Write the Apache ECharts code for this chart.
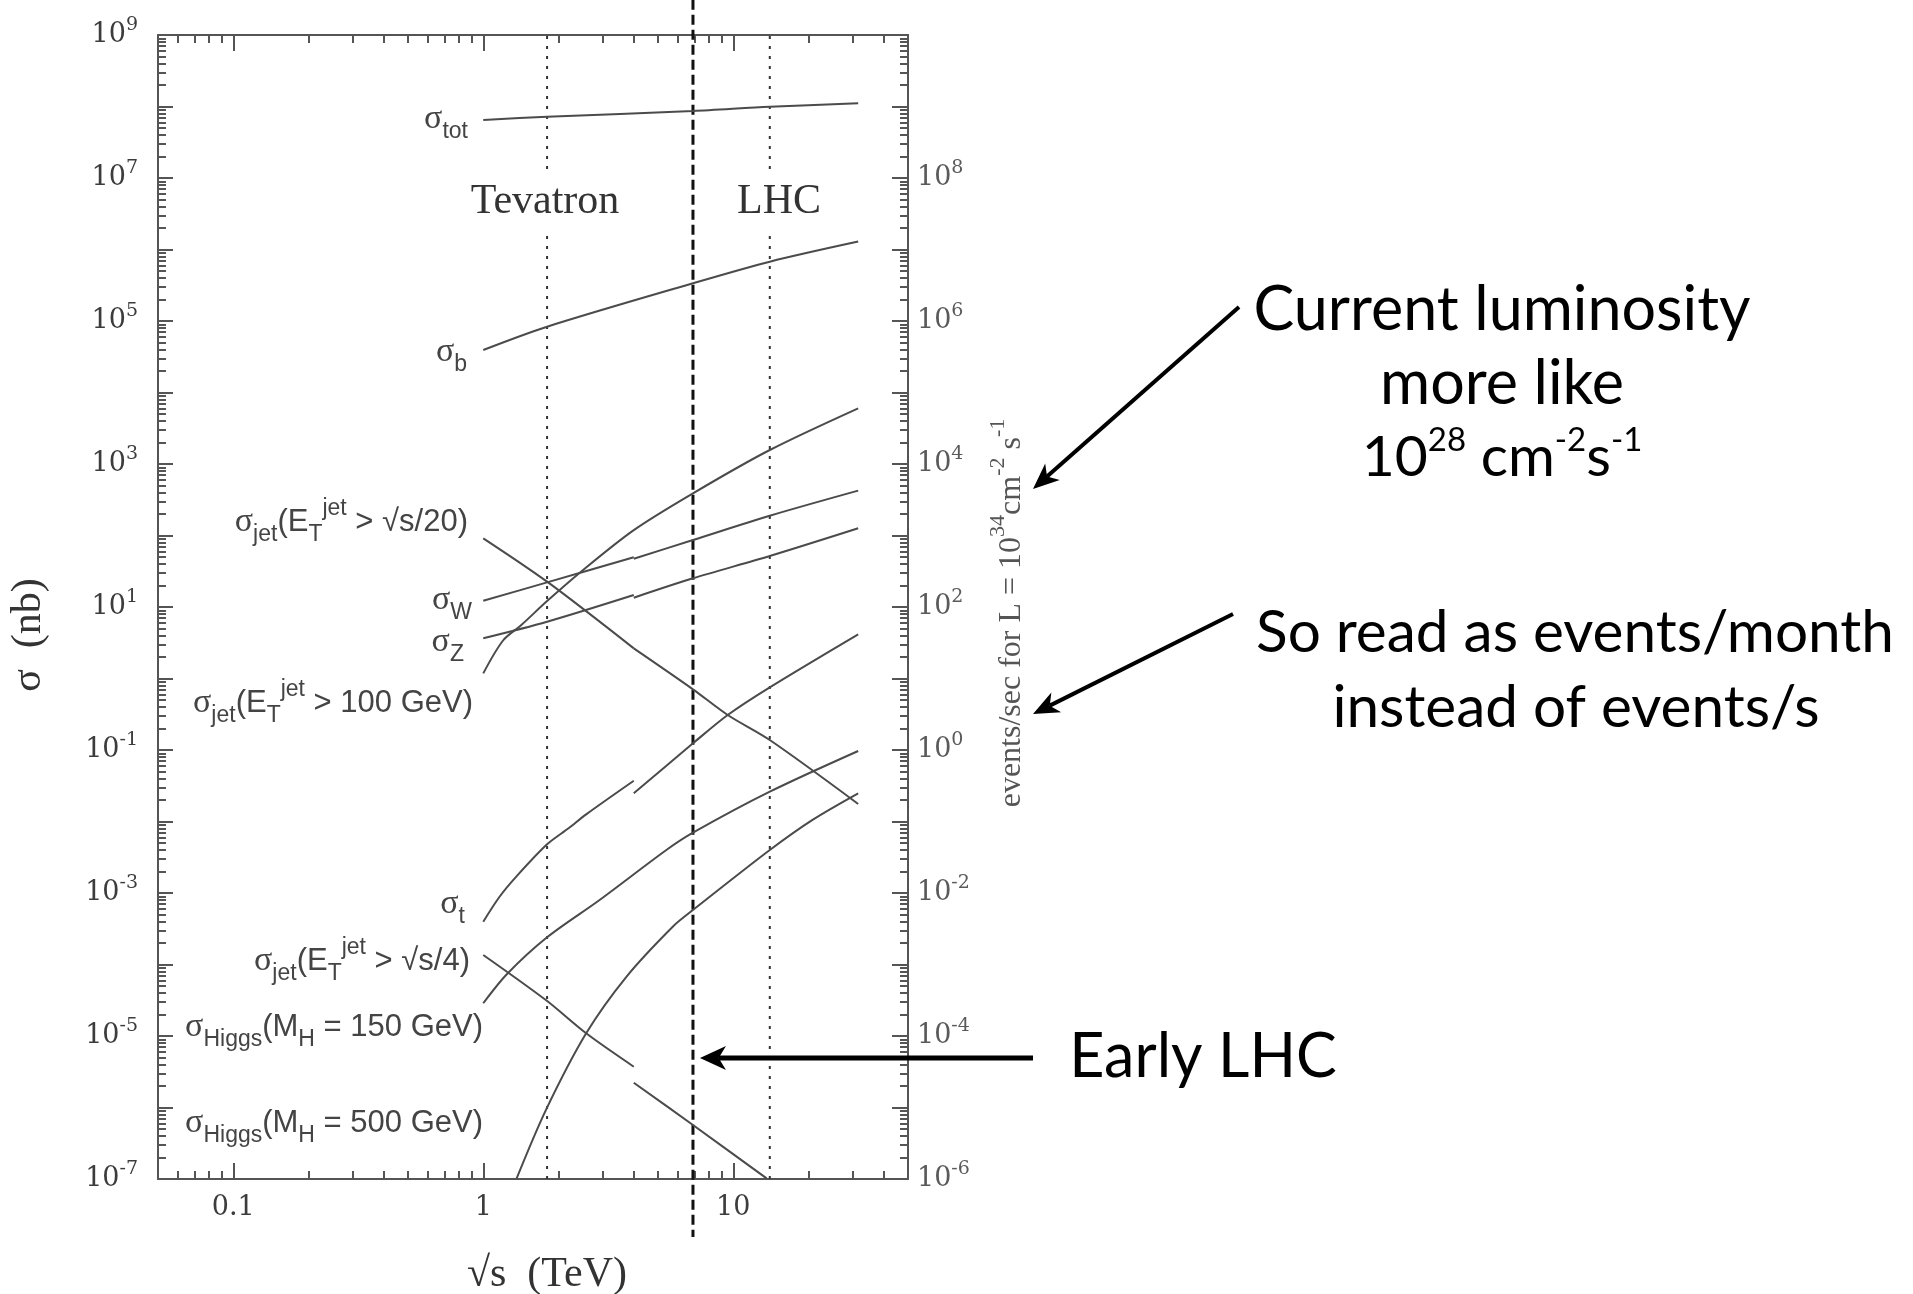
<!DOCTYPE html>
<html>
<head>
<meta charset="utf-8">
<title>Cross sections vs collider energy</title>
<script src="https://cdn.jsdelivr.net/npm/echarts@6.0.0/dist/echarts.min.js"></script>
<style>
  html, body { margin: 0; padding: 0; background: #ffffff; }
  #chart { width: 1913px; height: 1294px; }
</style>
</head>
<body>
<div id="chart"></div>
<script>
// ---- axis ranges -------------------------------------------------------
// x: centre-of-mass energy sqrt(s) in TeV; y: cross section in nb.
// Right axis: event rate at L = 1e34 cm^-2 s^-1, i.e. 1 nb -> 10 events/s.
const xMin = 0.05, xMax = 50;
const yMin = 1e-7, yMax = 1e9;
const rateMin = 1e-6, rateMax = 1e10;

const xTickLabels = [0.1, 1, 10];
const xMajorTicks = [0.1, 1, 10];
const yTickLabels = [1e-7, 1e-5, 1e-3, 1e-1, 1e1, 1e3, 1e5, 1e7, 1e9];
const yMajorTicks = [1e-7, 1e-6, 1e-5, 1e-4, 1e-3, 1e-2, 1e-1, 1, 1e1, 1e2, 1e3, 1e4, 1e5, 1e6, 1e7, 1e8, 1e9];
const rateTickLabels = [1e-6, 1e-4, 1e-2, 1, 1e2, 1e4, 1e6, 1e8];
const rateMajorTicks = [1e-6, 1e-5, 1e-4, 1e-3, 1e-2, 1e-1, 1, 1e1, 1e2, 1e3, 1e4, 1e5, 1e6, 1e7, 1e8, 1e9, 1e10];

// collider energies (TeV)
const TEVATRON = 1.8;
const LHC = 14;
const EARLY_LHC = 6.9;

// ---- cross sections [sqrt(s) TeV, sigma nb] ------------------------------
const sigmaTot = [[1, 6.47e7], [1.8, 7.19e7], [6.9, 8.65e7], [14, 9.93e7], [31.6, 1.11e8]];
const sigmaB = [[1, 3.93e4], [1.8, 8.32e4], [6.9, 3.37e5], [14, 6.75e5], [31.6, 1.29e6]];
const jetSqrtS20PpBar = [[1, 91.4], [1.8, 22.6], [4, 2.64]];
const jetSqrtS20Pp = [[4, 2.64], [6.9, 0.706], [9.5, 0.309], [14, 0.138], [31.6, 0.0176]];
const sigmaWPpBar = [[1, 12.2], [1.8, 22.1], [4, 49.6]];
const sigmaWPp = [[4, 47.4], [6.9, 86.5], [14, 189], [31.6, 424]];
const sigmaZPpBar = [[1, 3.65], [1.8, 6.22], [4, 14.7]];
const sigmaZPp = [[4, 13.5], [6.9, 25.2], [14, 51.6], [31.6, 126]];
const jet100 = [[1, 1.18], [1.2, 3.4], [1.42, 5.6], [1.8, 12.1], [2.46, 31.2], [4, 119], [6.9, 389], [14, 1570], [31.6, 6010]];
const sigmaTopPpBar = [[1, 3.97e-4], [1.16, 8.8e-4], [1.35, 1.67e-3], [1.8, 4.8e-3], [2.2, 8.1e-3], [2.58, 0.0126], [4, 0.0372]];
const sigmaTopPp = [[4, 0.0248], [6.9, 0.124], [9.5, 0.309], [14, 0.753], [31.6, 4.15]];
const jetSqrtS4PpBar = [[1, 1.36e-4], [1.78, 3.18e-5], [2.58, 1.09e-5], [4, 3.72e-6]];
const jetSqrtS4Pp = [[4, 2.22e-6], [6.9, 5.69e-7], [13.6, 1.02e-7]];
const higgs150 = [[1, 2.87e-5], [1.245, 7.36e-5], [1.8, 2.4e-4], [2.92, 7.98e-4], [5.4, 3.99e-3], [6.9, 6.97e-3], [14, 0.0261], [31.6, 0.0968]];
const higgs500 = [[1.36, 1.02e-7], [1.78, 9.2e-7], [2.58, 1.09e-5], [3.73, 6.68e-5], [5.74, 3.4e-4], [6.9, 5.78e-4], [14, 3.99e-3], [20.9, 0.0107], [31.6, 0.0248]];

// ---- helpers -------------------------------------------------------------
const FONT_TICK = '"DejaVu Serif", serif';
const FONT_SERIF = '"Liberation Serif", "Times New Roman", serif';
const FONT_SANS = '"Liberation Sans", Arial, sans-serif';
const FONT_NOTE = 'Lato, "Open Sans", sans-serif';
const INK = '#3c3c3c';
const CURVE = '#4b4b4b';
const FRAME = '#555555';

// log minor ticks (2..9 per decade) inside [lo, hi]
function minorTicks(lo, hi) {
  const out = [];
  for (let e = Math.floor(Math.log10(lo)) - 1; e <= Math.ceil(Math.log10(hi)); e++) {
    for (let k = 2; k <= 9; k++) {
      const v = k * Math.pow(10, e);
      if (v > lo && v < hi) out.push(v);
    }
  }
  return out;
}
const xMinorTicks = minorTicks(xMin, xMax);
const yMinorTicks = minorTicks(yMin, yMax);
const rateMinorTicks = minorTicks(rateMin, rateMax);

const powerLabel = v => '{b|10}{e|' + Math.round(Math.log10(v)) + '}';
const powerRich = color => ({
  b: { fontFamily: FONT_TICK, fontSize: 27, lineHeight: 36, color: color },
  e: { fontFamily: FONT_TICK, fontSize: 19, height: 16, verticalAlign: 'top', color: color }
});

function logAxis(opts) {
  return Object.assign({
    type: 'log', logBase: 10,
    splitLine: { show: false },
    minorTick: { show: false },
    minorSplitLine: { show: false },
    axisLine: { show: false },
    axisLabel: { show: false },
    silent: true
  }, opts);
}
const tickStyle = { color: FRAME, width: 2 };
const frameLine = { show: true, onZero: false, lineStyle: { color: FRAME, width: 2 } };

function curve(name, data) {
  return {
    name: name, type: 'line', data: data,
    xAxisIndex: 0, yAxisIndex: 0,
    symbol: 'none', smooth: 0.3, silent: true, z: 4,
    lineStyle: { color: CURVE, width: 2 }
  };
}
function verticalLine(name, x, lo, hi, lineStyle, clip) {
  return {
    name: name, type: 'line', data: [[x, lo], [x, hi]],
    xAxisIndex: 0, yAxisIndex: 0, symbol: 'none', silent: true,
    clip: clip, z: 3, lineStyle: lineStyle
  };
}

const chart = echarts.init(document.getElementById('chart'), null, { renderer: 'canvas' });

chart.setOption({
  animation: false,
  backgroundColor: '#ffffff',
  grid: { left: 158, top: 35, width: 750, height: 1144, containLabel: false },
  xAxis: [
    logAxis({
      min: xMin, max: xMax, position: 'bottom',
      axisLine: frameLine,
      axisTick: { show: true, inside: true, length: 16, customValues: xMajorTicks, lineStyle: tickStyle },
      axisLabel: {
        show: true, customValues: xTickLabels, margin: 15,
        fontFamily: FONT_TICK, fontSize: 27, color: INK,
        formatter: v => String(+(+v).toPrecision(6))
      }
    }),
    logAxis({
      min: xMin, max: xMax, position: 'bottom',
      axisTick: { show: true, inside: true, length: 8, customValues: xMinorTicks, lineStyle: tickStyle }
    }),
    logAxis({
      min: xMin, max: xMax, position: 'top',
      axisLine: frameLine,
      axisTick: { show: true, inside: true, length: 16, customValues: xMajorTicks, lineStyle: tickStyle }
    }),
    logAxis({
      min: xMin, max: xMax, position: 'top',
      axisTick: { show: true, inside: true, length: 8, customValues: xMinorTicks, lineStyle: tickStyle }
    })
  ],
  yAxis: [
    logAxis({
      min: yMin, max: yMax, position: 'left',
      axisLine: frameLine,
      axisTick: { show: true, inside: true, length: 15, customValues: yMajorTicks, lineStyle: tickStyle },
      axisLabel: {
        show: true, customValues: yTickLabels, margin: 20,
        formatter: powerLabel, rich: powerRich(INK)
      }
    }),
    logAxis({
      min: yMin, max: yMax, position: 'left',
      axisTick: { show: true, inside: true, length: 8, customValues: yMinorTicks, lineStyle: tickStyle }
    }),
    logAxis({
      min: rateMin, max: rateMax, position: 'right',
      axisLine: frameLine,
      axisTick: { show: true, inside: true, length: 16, customValues: rateMajorTicks, lineStyle: tickStyle },
      axisLabel: {
        show: true, customValues: rateTickLabels, margin: 9,
        formatter: powerLabel, rich: powerRich('#5a5a5a')
      }
    }),
    logAxis({
      min: rateMin, max: rateMax, position: 'right',
      axisTick: { show: true, inside: true, length: 8, customValues: rateMinorTicks, lineStyle: tickStyle }
    })
  ],
  series: [
    verticalLine('Tevatron', TEVATRON, yMin, yMax, { color: '#333', width: 2, type: [3, 7] }, true),
    verticalLine('LHC', LHC, yMin, yMax, { color: '#333', width: 2, type: [3, 7] }, true),
    verticalLine('Early LHC', EARLY_LHC, 3.1e9, 1.55e-8, { color: '#111', width: 3, type: [10, 5] }, false),
    curve('sigma_tot', sigmaTot),
    curve('sigma_b', sigmaB),
    curve('sigma_jet sqrt(s)/20 (p pbar)', jetSqrtS20PpBar),
    curve('sigma_jet sqrt(s)/20 (pp)', jetSqrtS20Pp),
    curve('sigma_W (p pbar)', sigmaWPpBar),
    curve('sigma_W (pp)', sigmaWPp),
    curve('sigma_Z (p pbar)', sigmaZPpBar),
    curve('sigma_Z (pp)', sigmaZPp),
    curve('sigma_jet 100 GeV', jet100),
    curve('sigma_t (p pbar)', sigmaTopPpBar),
    curve('sigma_t (pp)', sigmaTopPp),
    curve('sigma_jet sqrt(s)/4 (p pbar)', jetSqrtS4PpBar),
    curve('sigma_jet sqrt(s)/4 (pp)', jetSqrtS4Pp),
    curve('sigma_Higgs 150 GeV', higgs150),
    curve('sigma_Higgs 500 GeV', higgs500)
  ]
});

// ---- text and arrows -------------------------------------------------------
const labelRich = {
  m: { fontFamily: FONT_SANS, fontSize: 31, lineHeight: 40, fill: '#444' },
  g: { fontFamily: FONT_SERIF, fontSize: 34, lineHeight: 40, fill: '#444' },
  sub: { fontFamily: FONT_SANS, fontSize: 23, height: 14, verticalAlign: 'bottom', fill: '#444' },
  sup: { fontFamily: FONT_SANS, fontSize: 23, height: 13, verticalAlign: 'top', fill: '#444' }
};
const curveLabels = [
  { x: 468, y: 119, text: '{g|σ}{sub|tot}' },
  { x: 467, y: 352, text: '{g|σ}{sub|b}' },
  { x: 468, y: 522, text: '{g|σ}{sub|jet}{m|(E}{sub|T}{sup|jet}{m| > √s/20)}' },
  { x: 472, y: 600, text: '{g|σ}{sub|W}' },
  { x: 464, y: 642, text: '{g|σ}{sub|Z}' },
  { x: 473, y: 703, text: '{g|σ}{sub|jet}{m|(E}{sub|T}{sup|jet}{m| > 100 GeV)}' },
  { x: 465, y: 904, text: '{g|σ}{sub|t}' },
  { x: 470, y: 961, text: '{g|σ}{sub|jet}{m|(E}{sub|T}{sup|jet}{m| > √s/4)}' },
  { x: 483, y: 1027, text: '{g|σ}{sub|Higgs}{m|(M}{sub|H}{m| = 150 GeV)}' },
  { x: 483, y: 1123, text: '{g|σ}{sub|Higgs}{m|(M}{sub|H}{m| = 500 GeV)}' }
];

function textEl(x, y, text, extra, rotation) {
  return {
    type: 'text', x: x, y: y, rotation: rotation || 0, z: 50, silent: true,
    style: Object.assign({
      text: text, x: 0, y: 0,
      align: 'center', verticalAlign: 'middle',
      textAlign: 'center', textVerticalAlign: 'middle'
    }, extra)
  };
}

function arrow(x1, y1, x2, y2, width, headLen, headHalf) {
  const dx = x2 - x1, dy = y2 - y1, len = Math.hypot(dx, dy);
  const ux = dx / len, uy = dy / len, nx = -uy, ny = ux;
  const notch = headLen * 0.72;
  return [
    { type: 'line', z: 60, silent: true,
      shape: { x1: x1, y1: y1, x2: x2 - ux * notch, y2: y2 - uy * notch },
      style: { stroke: '#000', lineWidth: width } },
    { type: 'polygon', z: 61, silent: true,
      shape: { points: [
        [x2, y2],
        [x2 - ux * headLen + nx * headHalf, y2 - uy * headLen + ny * headHalf],
        [x2 - ux * notch, y2 - uy * notch],
        [x2 - ux * headLen - nx * headHalf, y2 - uy * headLen - ny * headHalf]
      ] },
      style: { fill: '#000' } }
  ];
}

const earlyX = chart.convertToPixel({ xAxisIndex: 0 }, EARLY_LHC);
const graphics = [];

curveLabels.forEach(l => {
  graphics.push(textEl(l.x, l.y, l.text, { align: 'right', textAlign: 'right', rich: labelRich }));
});

// collider names over the dotted lines
const colliderStyle = { font: '42px ' + FONT_SERIF, fill: '#333', backgroundColor: '#fff', padding: [8, 4] };
graphics.push(textEl(545, 202, 'Tevatron', colliderStyle));
graphics.push(textEl(779, 202, 'LHC', colliderStyle));

// axis titles
graphics.push(textEl(547, 1275, '√s  (TeV)', { font: '42px ' + FONT_SERIF, fill: '#333' }));
graphics.push(textEl(29, 635, 'σ  (nb)', { font: '42px ' + FONT_SERIF, fill: '#333' }, Math.PI / 2));
graphics.push(textEl(1012, 613, '{m|events/sec for L = 10}{s|34}{m|cm}{s|-2}{m| s}{s|-1}', {
  fill: '#555',
  rich: {
    m: { fontFamily: FONT_SERIF, fontSize: 32, lineHeight: 44, fill: '#555' },
    s: { fontFamily: FONT_SERIF, fontSize: 22, height: 16, verticalAlign: 'top', fill: '#555' }
  }
}, Math.PI / 2));

// commentary
const noteRich = size => ({
  n: { fontFamily: FONT_NOTE, fontSize: size, lineHeight: 70, fill: '#000' },
  p: { fontFamily: FONT_NOTE, fontSize: 33, height: 34, verticalAlign: 'top', fill: '#000' }
});
graphics.push(textEl(1502, 310, '{n|Current luminosity}', { rich: noteRich(61) }));
graphics.push(textEl(1502, 384, '{n|more like}', { rich: noteRich(61) }));
graphics.push(textEl(1502, 458, '{n|10}{p|28}{n| cm}{p|-2}{n|s}{p|-1}', { rich: noteRich(57) }));
graphics.push(textEl(1575, 633, '{n|So read as events/month}', { rich: noteRich(58.5) }));
graphics.push(textEl(1576, 708, '{n|instead of events/s}', { rich: noteRich(58.5) }));
graphics.push(textEl(1203, 1057, '{n|Early LHC}', { rich: noteRich(61) }));

graphics.push(...arrow(1239, 307, 1033, 489, 4, 26, 11));
graphics.push(...arrow(1233, 614, 1033, 714, 4, 26, 11));
graphics.push(...arrow(1033, 1058, earlyX + 7, 1058, 5, 26, 12));

chart.setOption({ graphic: { elements: graphics } });
</script>
</body>
</html>
